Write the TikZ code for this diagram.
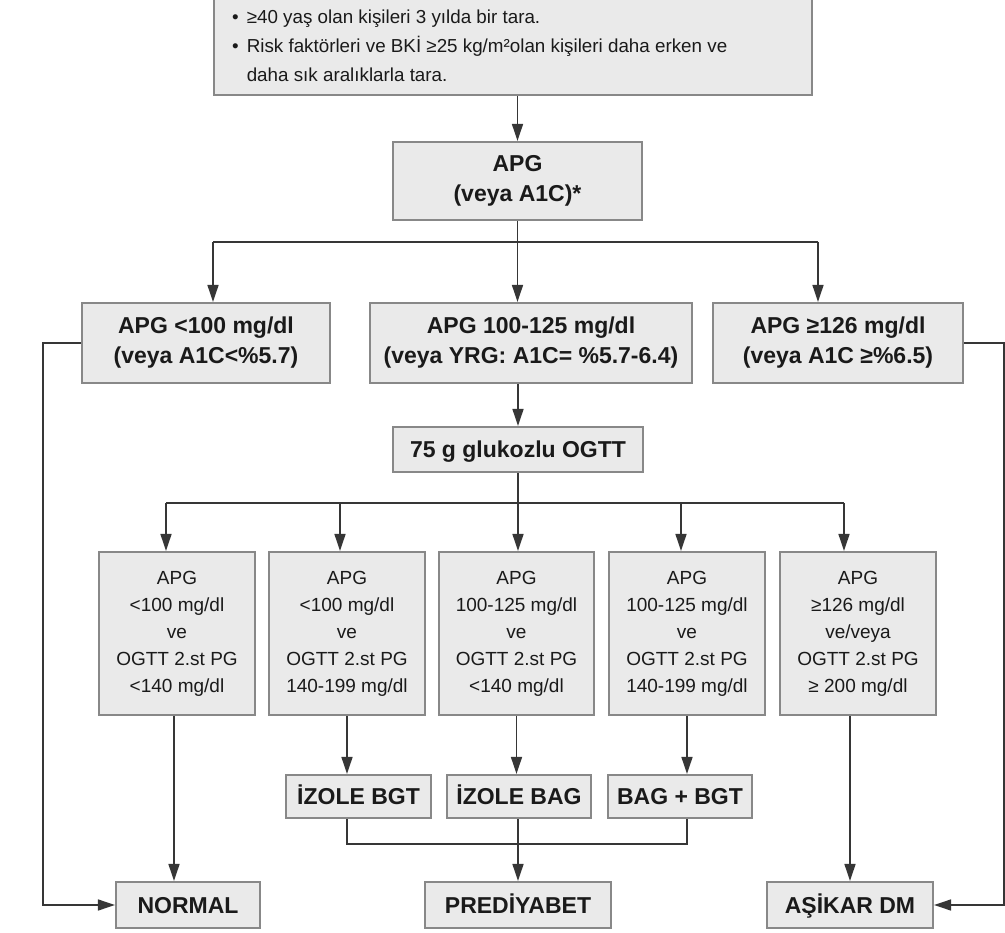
\documentclass[tikz,border=0pt]{standalone}
\usepackage{fontspec}
\setmainfont{Liberation Sans}
\usetikzlibrary{arrows.meta}
\definecolor{boxfill}{HTML}{EAEAEA}
\definecolor{boxdraw}{HTML}{888888}
\definecolor{linec}{HTML}{363636}
\definecolor{txt}{HTML}{1A1A1A}
\begin{document}
\begin{tikzpicture}[x=1pt,y=-1pt,
 box/.style={draw=boxdraw, line width=2.2pt, fill=boxfill, inner sep=0pt, text=txt, align=center},
 bbox/.style={box, font=\fontsize{23}{30}\selectfont\bfseries},
 sbox/.style={bbox, text height=16.5pt, text depth=0pt},
 rbox/.style={box, font=\fontsize{19}{27}\selectfont},
 conn/.style={draw=linec, line width=1.6pt},
 arr/.style={conn, -{Triangle[length=17pt,width=11pt]}},
]
\useasboundingbox (0,0) rectangle (1005,933);
\fill[white] (0,0) rectangle (1005,933);

% top box
\node[box, minimum width=598pt, minimum height=105pt] (top) at (513,42.5) {};
\node[anchor=west, text=txt, font=\fontsize{18.8}{29}\selectfont, inner sep=0pt] (toptxt) at (232,47)
 {\begin{tabular}{@{}l@{\hspace{8pt}}l@{}}\textbullet & ≥40 yaş olan kişileri 3 yılda bir tara.\\
  \textbullet & Risk faktörleri ve BKİ ≥25 kg/m²olan kişileri daha erken ve\\
  & daha sık aralıklarla tara.\end{tabular}};

% APG
\node[bbox, minimum width=249pt, minimum height=78pt] (apg) at (517.5,181) {APG\\(veya A1C)*};

% row 2
\node[bbox, minimum width=248pt, minimum height=80pt] (l) at (206,343) {APG <100 mg/dl\\(veya A1C<\%5.7)};
\node[bbox, minimum width=322pt, minimum height=80pt] (m) at (531,343) {APG 100-125 mg/dl\\(veya YRG: A1C= \%5.7-6.4)};
\node[bbox, minimum width=250pt, minimum height=80pt] (r) at (838,343) {APG ≥126 mg/dl\\(veya A1C ≥\%6.5)};

% OGTT
\node[sbox, minimum width=250pt, minimum height=45pt] (ogtt) at (518,449.5) {75 g glukozlu OGTT};

% row 3
\node[rbox, minimum width=156pt, minimum height=163pt] (b1) at (177,633.5) {APG\\<100 mg/dl\\ve\\OGTT 2.st PG\\<140 mg/dl};
\node[rbox, minimum width=156pt, minimum height=163pt] (b2) at (347,633.5) {APG\\<100 mg/dl\\ve\\OGTT 2.st PG\\140-199 mg/dl};
\node[rbox, minimum width=155pt, minimum height=163pt] (b3) at (516.5,633.5) {APG\\100-125 mg/dl\\ve\\OGTT 2.st PG\\<140 mg/dl};
\node[rbox, minimum width=156pt, minimum height=163pt] (b4) at (687,633.5) {APG\\100-125 mg/dl\\ve\\OGTT 2.st PG\\140-199 mg/dl};
\node[rbox, minimum width=156pt, minimum height=163pt] (b5) at (858,633.5) {APG\\≥126 mg/dl\\ve/veya\\OGTT 2.st PG\\≥ 200 mg/dl};

% small boxes
\node[sbox, minimum width=145pt, minimum height=43pt] (s1) at (358.5,796.5) {İZOLE BGT};
\node[sbox, minimum width=144pt, minimum height=43pt] (s2) at (519,796.5) {İZOLE BAG};
\node[sbox, minimum width=144pt, minimum height=43pt] (s3) at (680,796.5) {BAG + BGT};

% outcome boxes
\node[sbox, minimum width=144pt, minimum height=46pt] (normal) at (188,905) {NORMAL};
\node[sbox, minimum width=186pt, minimum height=46pt] (pred) at (518,905) {PREDİYABET};
\node[sbox, minimum width=166pt, minimum height=46pt] (dm) at (850,905) {AŞİKAR DM};

% connectors
\coordinate (jl) at (213,242);
\coordinate (jr) at (818,242);
\coordinate (t1) at (166,503);
\coordinate (t2) at (340,503);
\coordinate (t4) at (681,503);
\coordinate (t5) at (844,503);
\coordinate (rr) at (1004,343);
\coordinate (jb) at (518,844);

\draw[arr] (apg.north |- top.south) -- (apg.north);
\draw[conn] (jl) -- (jr);
\draw[arr] (apg.south) -- (apg.south |- m.north);
\draw[arr] (jl) -- (jl |- l.north);
\draw[arr] (jr) -- (jr |- r.north);

\draw[arr] (ogtt.north |- m.south) -- (ogtt.north);
\draw[conn] (t1) -- (t5);
\draw[arr] (ogtt.south) -- (ogtt.south |- b3.north);
\draw[arr] (t1) -- (t1 |- b1.north);
\draw[arr] (t2) -- (t2 |- b2.north);
\draw[arr] (t4) -- (t4 |- b4.north);
\draw[arr] (t5) -- (t5 |- b5.north);

\draw[arr] ([xshift=-3pt]b1.south) -- ([xshift=-3pt]b1.south |- normal.north);
\draw[arr] (b2.south) -- (b2.south |- s1.north);
\draw[arr] (b3.south) -- (b3.south |- s2.north);
\draw[arr] (b4.south) -- (b4.south |- s3.north);
\draw[arr] (dm.north |- b5.south) -- (dm.north);

\draw[conn] (b2.south |- s1.south) |- (jb) -| (b4.south |- s3.south);
\draw[arr] (pred.north |- s2.south) -- (pred.north);

\draw[arr] (l.west) -- ++(-38,0) |- (normal.west);
\draw[arr] (r.east) -- (r.east -| rr) |- (dm.east);
\end{tikzpicture}
\end{document}
